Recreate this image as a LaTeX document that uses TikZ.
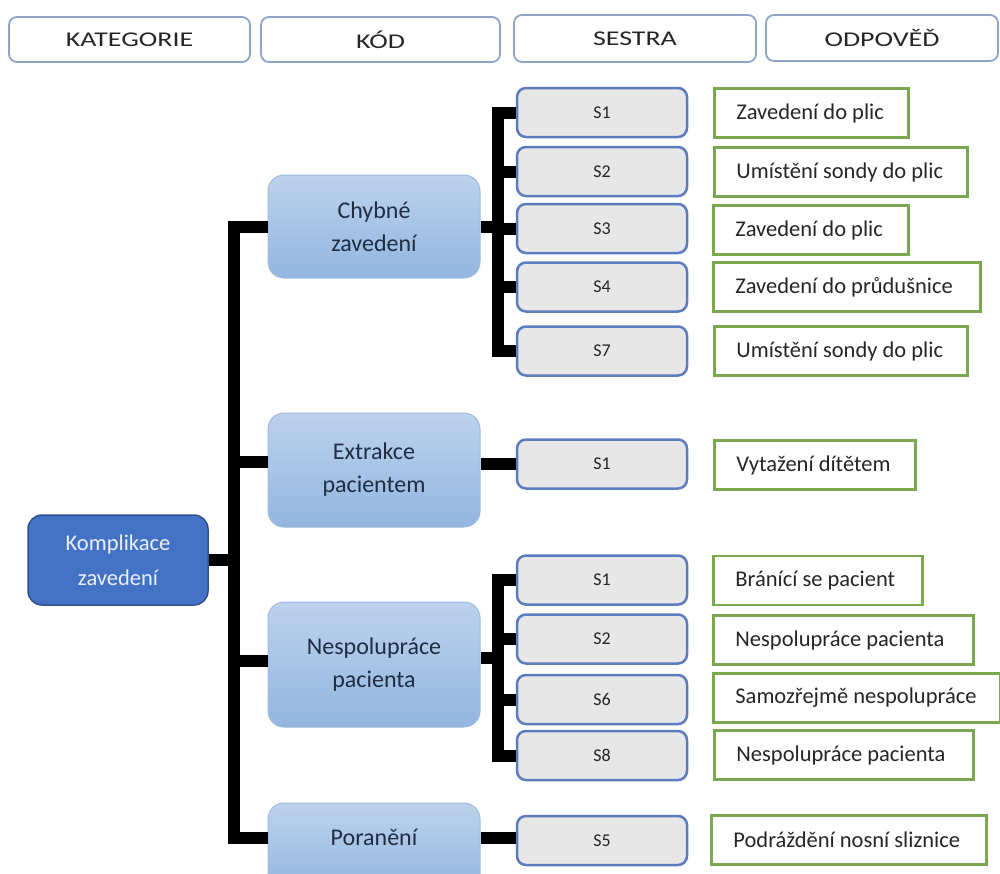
\documentclass[tikz,border=0pt]{standalone}
\usepackage{fontspec}
\setmainfont{Carlito}
\newfontfamily\headfont[FakeStretch=1.33]{Carlito}
\definecolor{headb}{HTML}{8CA5C8}
\definecolor{rootf}{HTML}{4472C4}
\definecolor{rootb}{HTML}{2F528F}
\definecolor{roott}{HTML}{EAF0FA}
\definecolor{cattop}{HTML}{BCD2EC}
\definecolor{catbot}{HTML}{93B5DF}
\definecolor{catb}{HTML}{9DBCE0}
\definecolor{cattxt}{HTML}{1F2D45}
\definecolor{sf}{HTML}{E8E7E7}
\definecolor{sb}{HTML}{5B7DBF}
\definecolor{ab}{HTML}{7BA84E}
\definecolor{txt}{HTML}{262626}
\begin{document}
\begin{tikzpicture}[x=1pt,y=-1pt,
  head/.style={draw=headb, line width=1.8pt, rounded corners=8pt, fill=white,
    font=\headfont\fontsize{21}{24}\selectfont, text=txt},
  root/.style={draw=rootb, fill=rootf, line width=1.5pt, rounded corners=14pt,
    minimum width=180pt, minimum height=90pt, align=center, text=roott,
    font=\fontsize{22.5}{35}\selectfont},
  cat/.style={draw=catb, line width=1pt, top color=cattop, bottom color=catbot,
    rounded corners=16pt, minimum width=212pt, align=center, text=cattxt,
    font=\fontsize{24}{33}\selectfont},
  sbox/.style={draw=sb, fill=sf, line width=2.5pt, rounded corners=9pt,
    minimum width=170pt, minimum height=49pt, font=\fontsize{18}{20}\selectfont, text=txt},
  ans/.style={draw=ab, fill=white, line width=2.8pt, anchor=west, minimum height=49pt,
    inner xsep=22pt, align=flush left, font=\fontsize{22.5}{26}\selectfont, text=txt},
  conn/.style={line width=12pt, draw=black},
]
\useasboundingbox (0,0) rectangle (1000,873);
\clip (0,0) rectangle (1000,873);

% column headers
\node[head, minimum width=241pt, minimum height=45pt] (h1) at (129.5,39.5) {KATEGORIE};
\node[head, minimum width=239pt, minimum height=45pt] (h2) at (380.5,39.5) {KÓD};
\node[head, minimum width=242pt, minimum height=47pt] (h3) at (635,38.5) {SESTRA};
\node[head, minimum width=232pt, minimum height=46pt] (h4) at (882,38) {ODPOVĚĎ};

% trunk and branch positions
\coordinate (trunk) at (234,0);
\coordinate (br) at (498,0);

% root and categories
\node[root] (root) at (118,560) {Komplikace\\zavedení};
\node[cat, minimum height=103pt] (chyb) at (374,226.5) {Chybné\\zavedení};
\node[cat, minimum height=114pt] (ext) at (374,470) {Extrakce\\pacientem};
\node[cat, minimum height=125pt] (nesp) at (374,664.5) {Nespolupráce\\pacienta};
\node[cat, minimum height=90pt, text height=16pt, text depth=22pt] (por) at (374,848) {Poranění};

% nurse codes
\node[sbox] (s11) at (602,112.5) {S1};
\node[sbox] (s12) at (602,171.5) {S2};
\node[sbox] (s13) at (602,228.5) {S3};
\node[sbox] (s14) at (602,287) {S4};
\node[sbox] (s15) at (602,351) {S7};
\node[sbox] (s21) at (602,464) {S1};
\node[sbox] (s31) at (602,580) {S1};
\node[sbox] (s32) at (602,639) {S2};
\node[sbox] (s33) at (602,699.5) {S6};
\node[sbox] (s34) at (602,755.5) {S8};
\node[sbox] (s41) at (602,840.5) {S5};

% answers
\node[ans, text width=150pt] (a11) at (713,113) {\mbox{Zavedení do plic}};
\node[ans, text width=209pt] (a12) at (713,172) {\mbox{Umístění sondy do plic}};
\node[ans, text width=151pt] (a13) at (712,230) {\mbox{Zavedení do plic}};
\node[ans, text width=223pt] (a14) at (712,287) {\mbox{Zavedení do průdušnice}};
\node[ans, text width=209pt] (a15) at (713,351) {\mbox{Umístění sondy do plic}};
\node[ans, text width=157pt] (a21) at (713,465) {\mbox{Vytažení dítětem}};
\node[ans, text width=165pt] (a31) at (712,580.5) {\mbox{Bránící se pacient}};
\node[ans, text width=216pt] (a32) at (712,640) {\mbox{Nespolupráce pacienta}};
\node[ans, text width=243pt] (a33) at (712,698) {\mbox{Samozřejmě nespolupráce}};
\node[ans, text width=215pt] (a34) at (713,755) {\mbox{Nespolupráce pacienta}};
\node[ans, text width=231pt] (a41) at (710,840) {\mbox{Podráždění nosní sliznice}};

% main trunk
\draw[conn] (root.east) -- (root.east -| trunk);
\draw[conn] (chyb.west) -- (chyb.west -| trunk) -- ([yshift=10pt]por.west -| trunk) -- ([yshift=10pt]por.west);
\draw[conn] ([yshift=8pt]ext.west) -- ([yshift=8pt]ext.west -| trunk);
\draw[conn] ([yshift=4pt]nesp.west) -- ([yshift=4pt]nesp.west -| trunk);

% branch: Chybné zavedení
\draw[conn] (chyb.east) -- (chyb.east -| br);
\draw[conn] (s11.west) -- (s11.west -| br) -- (s15.west -| br) -- (s15.west);
\foreach \s in {s12,s13,s14} \draw[conn] (\s.west -| br) -- (\s.west);

% branch: Extrakce pacientem
\draw[conn] (s21.west -| ext.east) -- (s21.west);

% branch: Nespolupráce pacienta
\draw[conn] ([yshift=7pt]nesp.east) -- ([yshift=7pt]nesp.east -| br);
\draw[conn] (s31.west) -- (s31.west -| br) -- (s34.west -| br) -- (s34.west);
\foreach \s in {s32,s33} \draw[conn] (\s.west -| br) -- (\s.west);

% branch: Poranění
\draw[conn] ([yshift=10pt]por.east) -- ([yshift=10pt]por.east -| s41.west);
\end{tikzpicture}
\end{document}
